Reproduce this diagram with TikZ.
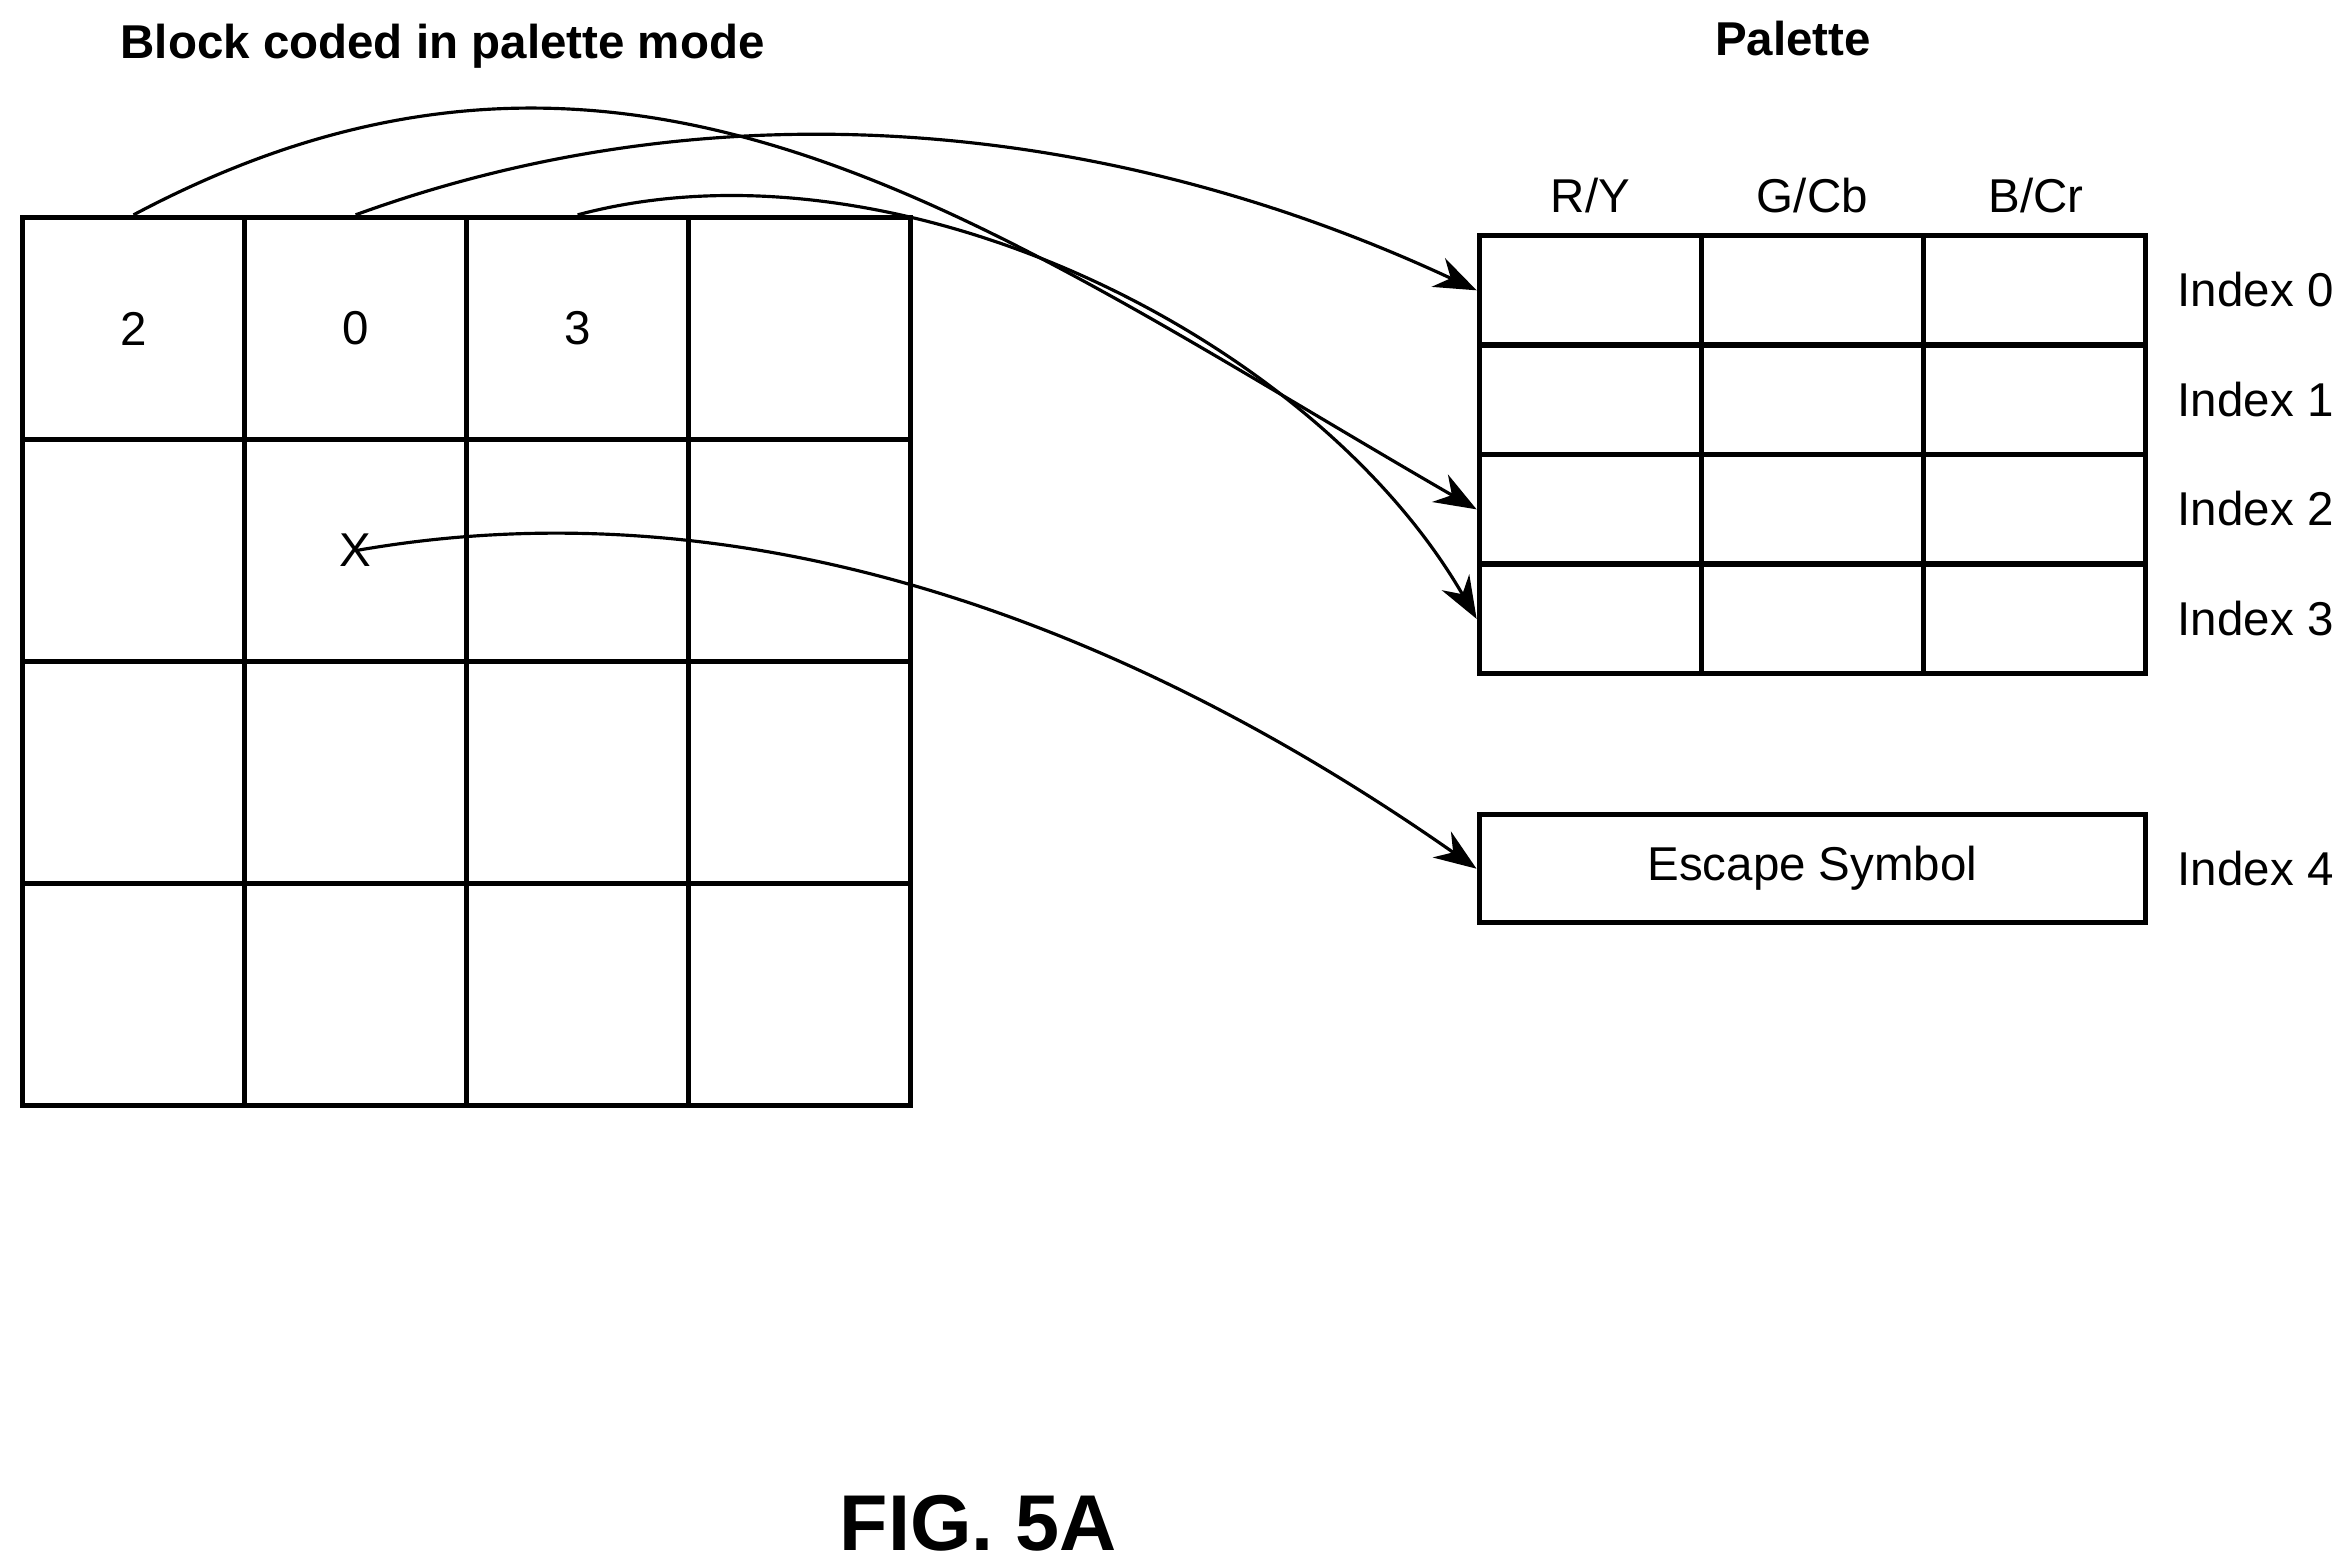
\documentclass[tikz,border=0pt]{standalone}
\usepackage{fontspec}
\setmainfont{Liberation Sans}
\usetikzlibrary{arrows.meta}
\begin{document}
\begin{tikzpicture}[x=0.01cm,y=-0.01cm,
 cell/.style={draw,line width=1pt,minimum width=1.48cm,minimum height=1.48cm,inner sep=0},
 pcell/.style={draw,line width=1pt,minimum width=1.48cm,minimum height=0.73cm,inner sep=0},
 lbl/.style={font=\fontsize{9}{11}\selectfont},
 arr/.style={-{Stealth[length=8pt,width=6pt]},line width=0.6pt}]
\useasboundingbox (0,0) rectangle (1567,1045);
\foreach \r in {0,1,2,3}{\foreach \c in {0,1,2,3}{
 \node[cell] (b\r\c) at (89+148*\c,219+148*\r) {};}}
\node[lbl] at (b00) {2};
\node[lbl] at (b01) {0};
\node[lbl] at (b02) {3};
\node[lbl] at (237,367) {X};
\coordinate (x) at (237,367);
\foreach \r in {0,1,2,3}{\foreach \c in {0,1,2}{
 \node[pcell] (p\r\c) at (1060+148*\c,193.5+73*\r) {};}}
\node[draw,line width=1pt,minimum width=4.44cm,minimum height=0.72cm,lbl] (esc) at (1208,579) {Escape Symbol};
\node[lbl] at (1060,130) {R/Y};
\node[lbl] at (1208,130) {G/Cb};
\node[lbl] at (1357,130) {B/Cr};
\foreach \i/\y in {0/193,1/266,2/339,3/412,4/579}{\node[lbl,anchor=east,inner sep=0] at (1556,\y) {Index \i};}
\node[font=\bfseries\fontsize{9}{11}\selectfont] at (295,31) {Block coded in palette mode};
\node[font=\bfseries\fontsize{9}{11}\selectfont] at (1195,26) {Palette};
\node[font=\bfseries\fontsize{15}{18}\selectfont] at (652,1015) {FIG. 5A};
\draw[arr] (b00.north) to[out=28,in=150,looseness=1.05] (p20.west);
\draw[arr] (b01.north) to[out=20,in=155,looseness=0.9] (p00.west);
\draw[arr] (b02.north) to[out=15,in=120,looseness=0.85] (p30.west);
\draw[arr] (x) to[out=10,in=145,looseness=0.9] (esc.west);
\end{tikzpicture}
\end{document}
